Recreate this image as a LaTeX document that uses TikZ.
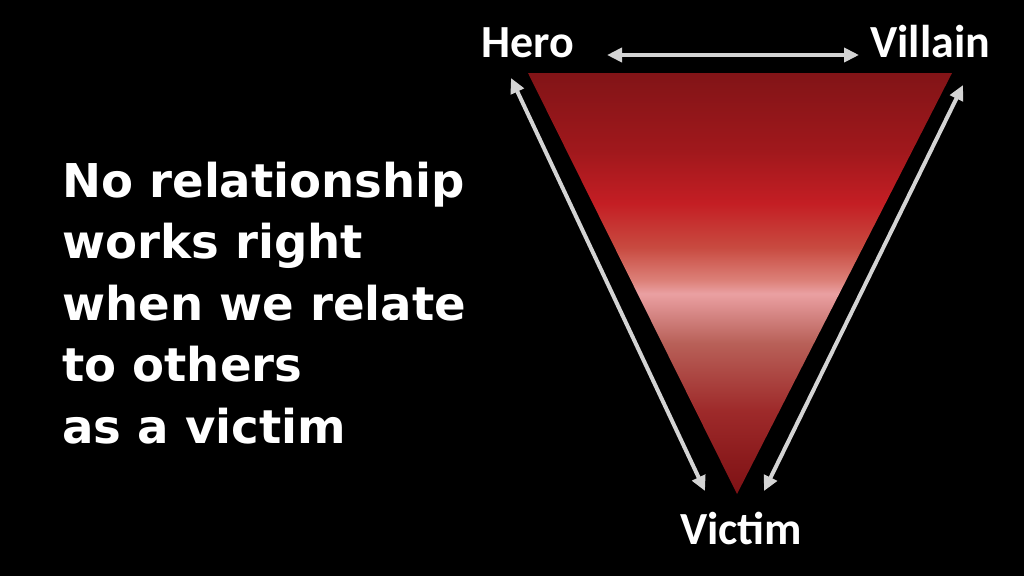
\documentclass[tikz,border=0pt]{standalone}
\usepackage{fontspec}
\setmainfont{Carlito}
\newfontfamily\bodyfont{DejaVu Sans}
\usetikzlibrary{arrows.meta}
\definecolor{arrowgrey}{HTML}{D4D4D4}
\pgfdeclareverticalshading{trishade}{100bp}{%
  color(0bp)=(rgb,255:red,126;green,18;blue,21);
  color(25bp)=(rgb,255:red,126;green,18;blue,21);
  color(28.9bp)=(rgb,255:red,138;green,26;blue,28);
  color(34.9bp)=(rgb,255:red,158;green,42;blue,42);
  color(42.9bp)=(rgb,255:red,184;green,96;blue,88);
  color(48.8bp)=(rgb,255:red,234;green,160;blue,162);
  color(50.4bp)=(rgb,255:red,220;green,128;blue,120);
  color(54.3bp)=(rgb,255:red,200;green,74;blue,64);
  color(59.5bp)=(rgb,255:red,196;green,30;blue,36);
  color(65.8bp)=(rgb,255:red,160;green,24;blue,28);
  color(75bp)=(rgb,255:red,130;green,20;blue,23);
  color(100bp)=(rgb,255:red,130;green,20;blue,23)}
\tikzset{
  label/.style={text=white, font=\fontsize{46}{50}\selectfont\bfseries, inner sep=0pt, anchor=base west},
  conn/.style={draw=arrowgrey, line width=4pt,
    {Triangle[length=15pt,width=14pt]}-{Triangle[length=15pt,width=14pt]}},
}
\begin{document}
\begin{tikzpicture}[x=1pt,y=-1pt]
\fill[black] (0,0) rectangle (1024,576);
\useasboundingbox (0,0) rectangle (1024,576);
% triangle
\coordinate (tl) at (528,73);
\coordinate (tr) at (952,73);
\coordinate (bt) at (737,494);
\shade[shading=trishade] (tl) -- (tr) -- (bt) -- cycle;
% labels
\node[label] (hero) at (481,57) {Hero};
\node[label] (villain) at (870,57) {Villain};
\node[label] (victim) at (680,544) {Victim};
% arrow ends
\coordinate (h1) at (607,55);
\coordinate (h2) at (859,55);
\coordinate (l1) at (511,78);
\coordinate (l2) at (705,491);
\coordinate (r1) at (963,85);
\coordinate (r2) at (764,491);
\draw[conn] (h1) -- (h2);
\draw[conn] (l1) -- (l2);
\draw[conn] (r1) -- (r2);
% body text
\node[text=white, inner sep=0pt, anchor=base west] (body) at (62,197)
  {\bodyfont\bfseries\fontsize{46.6}{61.5}\selectfont
   \vtop{\hbox{No relationship}\hbox{works right}\hbox{when we relate}\hbox{to others}\hbox{as a victim}}};
\end{tikzpicture}
\end{document}
